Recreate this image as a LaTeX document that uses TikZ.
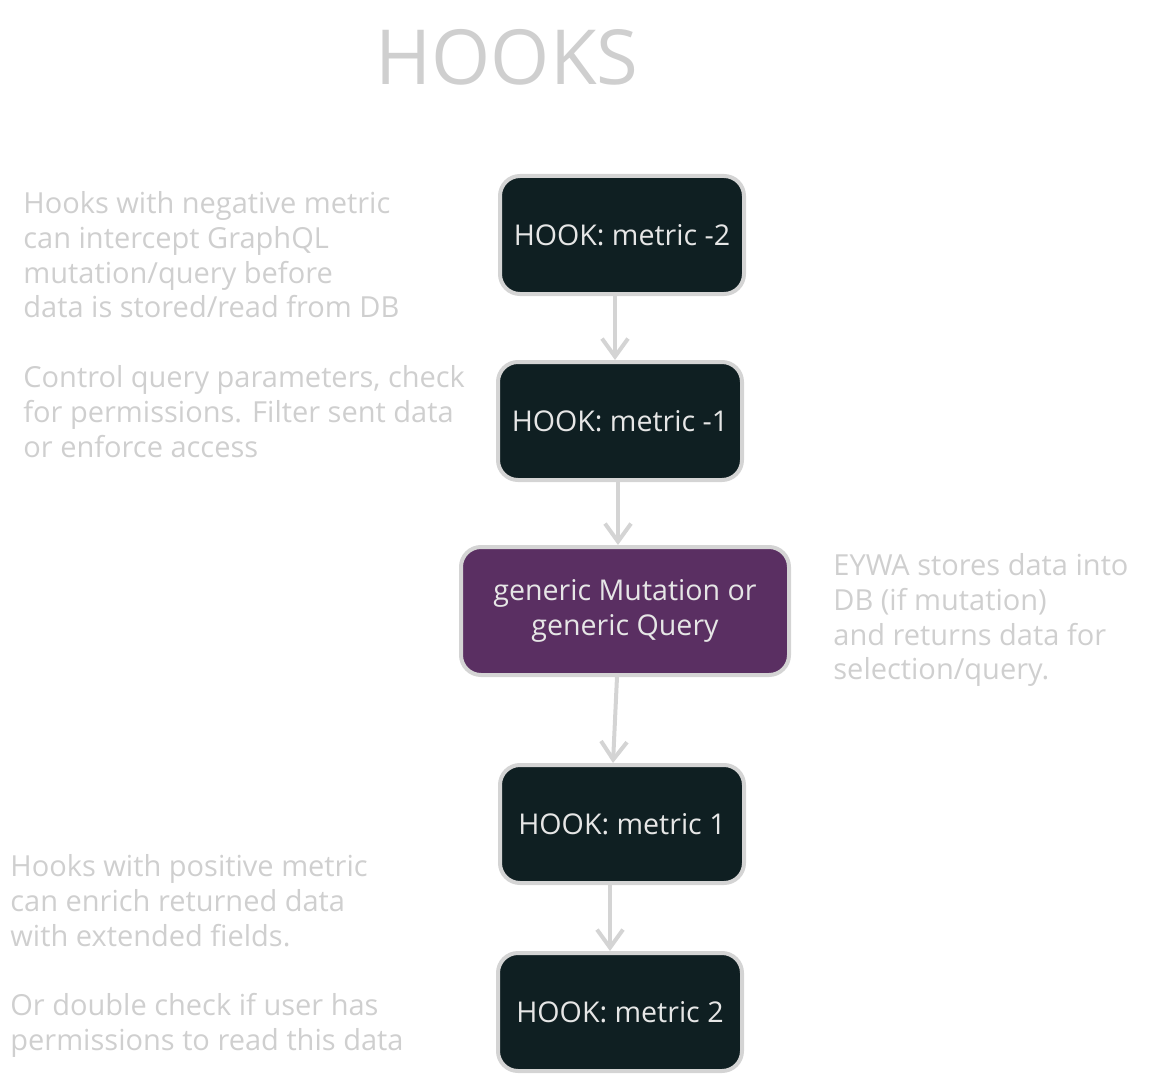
\documentclass[tikz,border=0pt]{standalone}
\usepackage{fontspec}
\setmainfont{Open Sans}
\usetikzlibrary{arrows.meta}
\definecolor{hookdark}{HTML}{0F1F22}
\definecolor{genpurple}{HTML}{5A2F62}
\definecolor{edgegray}{HTML}{D4D4D4}
\definecolor{notegray}{HTML}{CFCFCF}
\definecolor{boxtext}{HTML}{E6E6E6}

\begin{document}
\begin{tikzpicture}[
  x=0.5pt, y=-0.5pt,
  >={Straight Barb[length=9pt,width=13pt]},
  hook node/.style={draw=edgegray, line width=2pt, fill=hookdark,
    rounded corners=10pt, minimum width=122pt, minimum height=59pt,
    text=boxtext, font=\fontsize{14.3}{17.5}\selectfont, align=center},
  core node/.style={hook node, fill=genpurple, minimum width=164pt,
    minimum height=64pt},
  note/.style={anchor=north west, inner sep=0pt, text=notegray,
    align=left, font=\fontsize{14.5}{17.4}\selectfont},
  flow/.style={draw=edgegray, line width=2pt, ->}
]
\useasboundingbox (0,0) rectangle (1157,1081);

% title
\node[text=notegray, font=\fontsize{38}{40}\selectfont] (title) at (507,57) {HOOKS};

% hook chain
\node[hook node] (hookA) at (622,235) {HOOK: metric -2};
\node[hook node] (hookB) at (620,421) {HOOK: metric -1};
\node[core node] (generic) at (625,611) {generic Mutation or\\generic Query};
\node[hook node] (hookC) at (622,824) {HOOK: metric 1};
\node[hook node] (hookD) at (620,1012) {HOOK: metric 2};

\draw[flow] (hookA.south -| 615,0) -- (hookB.north -| 615,0);
\draw[flow] (hookB.south -| 618,0) -- (generic.north -| 618,0);
\draw[flow] (generic.south -| 617,0) -- (hookC.north -| 613,0);
\draw[flow] (hookC.south -| 610,0) -- (hookD.north -| 610,0);

% notes
\node[note] (noteNeg) at (23,191) {Hooks with negative metric\\can intercept GraphQL\\mutation/query before\\data is stored/read from DB};
\node[note] (noteCtrl) at (23,365) {Control query parameters, check\\for permissions. Filter sent data\\or enforce access};
\node[note] (noteEywa) at (833,553) {EYWA stores data into\\DB (if mutation)\\and returns data for\\selection/query.};
\node[note] (notePos) at (10,854) {Hooks with positive metric\\can enrich returned data\\with extended fields.\\[17.4pt]Or double check if user has\\permissions to read this data};
\end{tikzpicture}
\end{document}
